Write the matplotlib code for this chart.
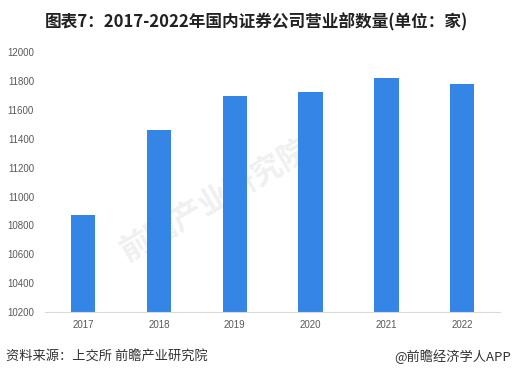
import matplotlib.pyplot as plt

plt.rcParams['font.family'] = ['Noto Sans CJK SC', 'DejaVu Sans']

years = ["2017", "2018", "2019", "2020", "2021", "2022"]
counts = [10869, 11462, 11697, 11724, 11821, 11779]
yticks = [10200, 10400, 10600, 10800, 11000, 11200, 11400, 11600, 11800, 12000]

fig = plt.figure(figsize=(5.12, 3.77), dpi=100)
ax = fig.add_axes([0.088, 0.172, 0.889, 0.690])
ax.patch.set_alpha(0)

ax.bar(range(len(years)), counts, width=0.32, color="#3585e6", zorder=2)

ax.set_xlim(-0.5, len(years) - 0.5)
ax.set_ylim(10200, 12000)
ax.set_yticks(yticks)
ax.set_xticks(range(len(years)))
ax.set_xticklabels(years)
ax.tick_params(axis="both", length=0, labelsize=7, colors="#595959")
ax.tick_params(axis="x", pad=6)
ax.tick_params(axis="y", pad=8)
for lab in ax.get_xticklabels() + ax.get_yticklabels():
    lab.set_family(["Liberation Sans", "DejaVu Sans"])
for side in ["top", "right", "left"]:
    ax.spines[side].set_visible(False)
ax.spines["bottom"].set_color("#d9d9d9")

# faint watermark behind the bars
fig.text(0.42, 0.47, "前瞻产业研究院", fontsize=22, color="#f0f0f0", rotation=30,
         ha="center", va="center", zorder=-1, fontweight="bold")

fig.text(0.5, 0.942, "图表7：2017-2022年国内证券公司营业部数量(单位：家)", ha="center",
         va="center", fontsize=12, fontweight="bold", color="#222222")
fig.text(0.012, 0.053, "资料来源：上交所 前瞻产业研究院", ha="left", va="center",
         fontsize=9.5, color="#333333")
fig.text(0.998, 0.053, "@前瞻经济学人APP", ha="right", va="center",
         fontsize=9.5, color="#333333")

fig.savefig("out.png", dpi=100)
